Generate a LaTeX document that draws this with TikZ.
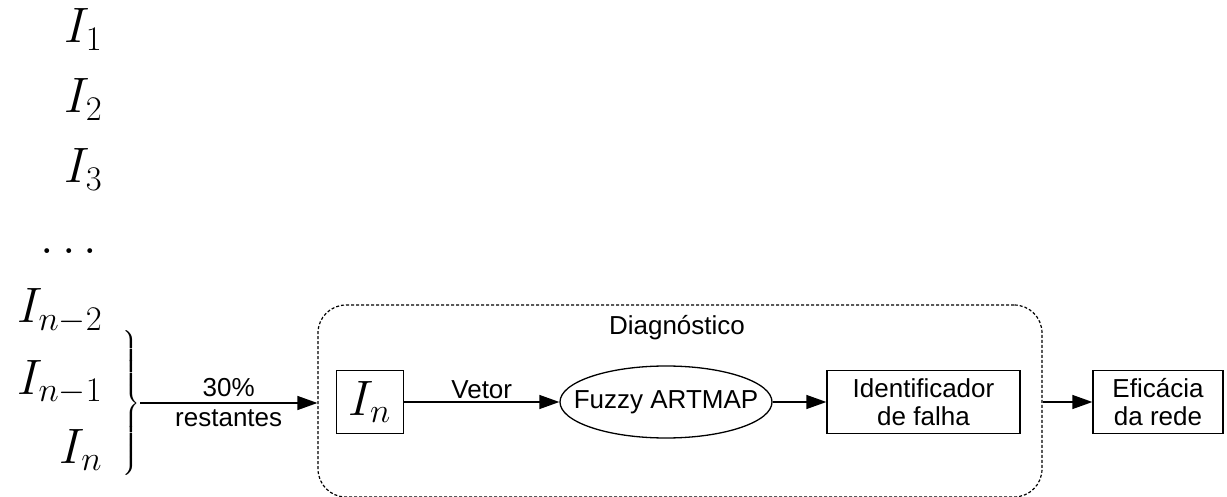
\documentclass[tikz,border=0pt]{standalone}
\usepackage{fontspec}
\setmainfont{Liberation Sans}
\usetikzlibrary{arrows.meta,shapes.geometric}
\tikzset{
  base/.style={line width=0.65pt},
  txt/.style={font=\fontsize{13}{14}\selectfont},
  mth/.style={font=\fontsize{26.5}{30}\selectfont, inner sep=0pt},
  blk/.style={base, draw, txt, minimum height=31.5pt, inner sep=2pt, align=center},
  flow/.style={base, -{Triangle[length=10pt,width=7pt]}},
  frame/.style={draw, line width=0.6pt, dash pattern=on 1.5pt off 1pt, rounded corners=14pt}
}
\begin{document}
\begin{tikzpicture}[x=0.5pt,y=-0.5pt]
\useasboundingbox (0,0) rectangle (1227,497);

% list of inputs
\node[mth, anchor=base east] (i1) at (103,43) {$I_1$};
\node[mth, anchor=base east] (i2) at (103,113) {$I_2$};
\node[mth, anchor=base east] (i3) at (103,183) {$I_3$};
\node[mth, anchor=base east] (dots) at (98,254) {$\ldots$};
\node[mth, anchor=base east] (in2) at (103,323) {$I_{n-2}$};
\node[mth, anchor=base east] (in1) at (103,394) {$I_{n-1}$};
\node[mth, anchor=base east] (in) at (103,463) {$I_n$};

% brace grouping the last inputs
\node[inner sep=0pt, anchor=east, font=\fontsize{17}{20}\selectfont] (brace) at (141,403)
  {\nulldelimiterspace=0pt\delimitershortfall=0pt\delimiterfactor=1000$\left.\vrule height 30pt depth 30pt width 0pt\right\}$};
\coordinate (tip) at (140,403);

% diagnosis block
\node[frame, minimum width=362pt, minimum height=96pt, inner sep=0pt] (diag) at (680,401) {};
\node[txt] (diaglbl) at (677,328) {Diagnóstico};

\node[blk, minimum width=33.5pt, inner sep=0pt] (vec) at (370,402) {\fontsize{26.5}{30}\selectfont$I_n$};
\node[base, draw, ellipse, txt, minimum width=106pt, minimum height=36pt, inner sep=0pt] (fuzzy) at (666,402) {\makebox[0pt]{Fuzzy ARTMAP}};
\node[blk, minimum width=96.5pt] (ident) at (923.5,402) {Identificador\\de falha};
\node[blk, minimum width=65pt] (eff) at (1158,402) {Eficácia\\da rede};

% connectors
\draw[flow] (tip) -- node[txt, align=center, font=\fontsize{13}{15}\selectfont] {30\%\\restantes} (tip -| diag.west);
\draw[flow] (vec) -- node[txt, above, inner sep=1.5pt] {Vetor} (fuzzy);
\draw[flow] (fuzzy) -- (ident);
\draw[flow] (diag.east |- eff.west) -- (eff);
\end{tikzpicture}
\end{document}
